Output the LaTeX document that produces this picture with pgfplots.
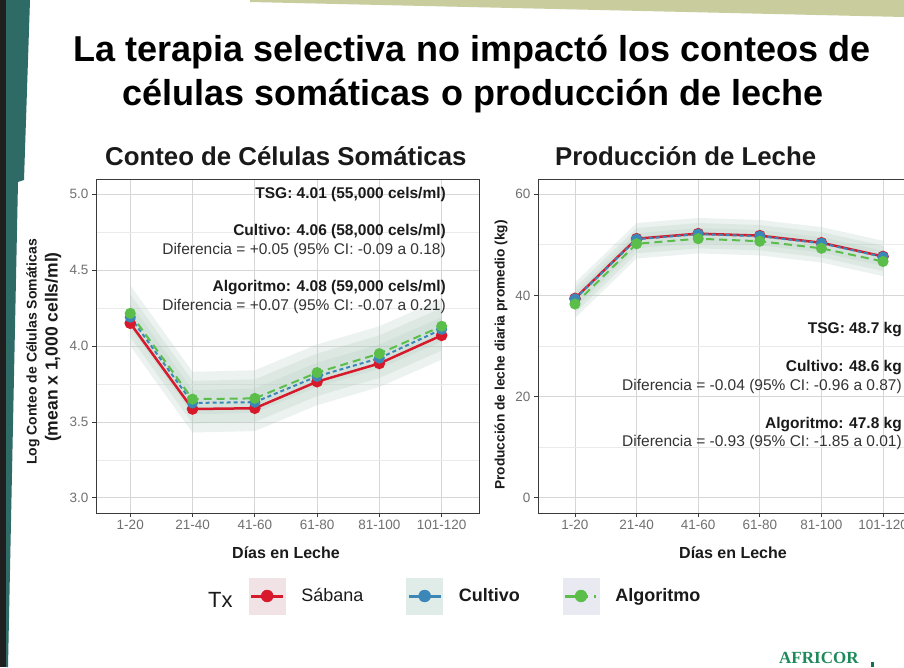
\documentclass[border=0pt]{standalone}
\usepackage{fontspec}
\setmainfont{Liberation Sans}
\newfontfamily\serifb{Liberation Serif}
\usepackage{pgfplots}
\pgfplotsset{compat=1.18}
\definecolor{cR}{HTML}{D7192B}
\definecolor{cB}{HTML}{3A87B8}
\definecolor{cG}{HTML}{5BBE4B}
\definecolor{rib}{HTML}{B0CCBF}
\definecolor{tickg}{HTML}{707070}
\definecolor{gridmaj}{HTML}{D6D6D6}
\definecolor{gridmin}{HTML}{EAEAEA}
\definecolor{framec}{HTML}{3A3A3A}
\definecolor{tealc}{HTML}{2F6B66}
\definecolor{olivec}{HTML}{C9CC9C}
\definecolor{afr}{HTML}{1E8A5C}
\definecolor{keyR}{HTML}{F1E3E5}
\definecolor{keyB}{HTML}{E0ECE7}
\definecolor{keyG}{HTML}{E9EAF1}
\definecolor{txtc}{HTML}{1A1A1A}
\definecolor{diffc}{HTML}{333333}

\pgfplotsset{
  panel/.style={
    scale only axis, anchor=south west,
    height=334pt,
    xtick={0,...,5}, xticklabels={1-20,21-40,41-60,61-80,81-100,101-120},
    tick align=outside, tick pos=left,
    major tick length=4pt, minor tick length=0pt,
    tick style={draw=framec, line width=0.8pt},
    axis line style={framec, line width=0.9pt},
    xmajorgrids, ymajorgrids, yminorgrids, minor y tick num=1,
    major grid style={gridmaj, line width=0.8pt},
    minor grid style={gridmin, line width=0.6pt},
    ticklabel style={font=\fontsize{13.5}{15}\selectfont, text=tickg},
    /pgf/number format/assume math mode=true,
  },
  ribbon/.style={fill=rib, fill opacity=0.24, draw=none, forget plot},
  sR/.style={cR, line width=2.5pt, mark=*, mark size=4.5pt, mark options={solid}, forget plot},
  sB/.style={cB, line width=2pt, dash pattern=on 4pt off 3pt, mark=*, mark size=4.5pt, mark options={solid}, forget plot},
  sG/.style={cG, line width=2pt, dash pattern=on 8pt off 5pt, mark=*, mark size=4.5pt, mark options={solid}, forget plot},
}

\begin{document}
\begin{tikzpicture}
\useasboundingbox (0,0) rectangle (904pt,667pt);
\clip (0,0) rectangle (904pt,667pt);
\fill[white] (0,0) rectangle (904pt,667pt);
% slide decorations
\fill[black!88] (0,0) rectangle (6pt,667pt);
\fill[tealc] (6pt,667pt) -- (30pt,667pt) -- (24pt,487pt) -- (18pt,485pt) -- (8pt,0pt) -- (6pt,0pt) -- cycle;
\fill[olivec] (250pt,667pt) -- (904pt,667pt) -- (904pt,650pt) -- (250pt,665pt) -- cycle;

% main title
\node[anchor=base, font=\fontsize{36}{40}\selectfont\bfseries, text=black] at (472pt,605pt) {La terapia selectiva no impactó los conteos de};
\node[anchor=base, font=\fontsize{36}{40}\selectfont\bfseries, text=black] at (473pt,561pt) {células somáticas o producción de leche};

% panel titles
\node[anchor=base west, font=\fontsize{25.8}{28}\selectfont\bfseries, text=txtc, inner sep=0pt] at (105pt,501pt) {Conteo de Células Somáticas};
\node[anchor=base west, font=\fontsize{25.8}{28}\selectfont\bfseries, text=txtc, inner sep=0pt] at (555pt,501pt) {Producción de Leche};

% ---------- left panel ----------
\begin{axis}[panel, at={(96pt,154pt)}, width=383pt,
  xmin=-0.55, xmax=5.6, ymin=2.9, ymax=5.1,
  ytick={3,3.5,4,4.5,5},
  yticklabel style={/pgf/number format/.cd, fixed, fixed zerofill, precision=1},
  legend columns=3,
  legend style={at={(0.3995,-0.2485)}, anchor=west, draw=none, fill=none,
    inner sep=0pt, outer sep=0pt,
    font=\fontsize{18}{20}\selectfont, text=txtc,
    /tikz/every odd column/.append style={column sep=16pt},
    /tikz/every even column/.append style={column sep=43pt},
    nodes={inner sep=0pt}},
  legend cell align=left,
]
\addplot[ribbon] coordinates {(0,4.40)(1,3.83)(2,3.84)(3,4.01)(4,4.13)(5,4.31)(5,3.91)(4,3.73)(3,3.61)(2,3.44)(1,3.43)(0,4.00)};
\addplot[ribbon] coordinates {(0,4.34)(1,3.77)(2,3.78)(3,3.95)(4,4.07)(5,4.25)(5,3.97)(4,3.79)(3,3.67)(2,3.50)(1,3.49)(0,4.06)};
\addplot[ribbon] coordinates {(0,4.28)(1,3.71)(2,3.72)(3,3.89)(4,4.01)(5,4.19)(5,4.03)(4,3.85)(3,3.73)(2,3.56)(1,3.55)(0,4.12)};

\addplot[sR] coordinates {(0,4.15)(1,3.585)(2,3.59)(3,3.765)(4,3.885)(5,4.07)};
\addplot[sB] coordinates {(0,4.19)(1,3.625)(2,3.63)(3,3.80)(4,3.92)(5,4.11)};
\addplot[sG] coordinates {(0,4.215)(1,3.65)(2,3.655)(3,3.825)(4,3.95)(5,4.13)};

\addlegendimage{legend image code/.code={
  \fill[keyR] (0pt,-18pt) rectangle (36pt,18pt);
  \draw[cR, line width=3pt] (2pt,0pt) -- (34pt,0pt);
  \fill[cR] (18pt,0pt) circle (6pt);}}
\addlegendentry{Sábana}
\addlegendimage{legend image code/.code={
  \fill[keyB] (0pt,-18pt) rectangle (36pt,18pt);
  \draw[cB, line width=3pt] (2pt,0pt) -- (34pt,0pt);
  \fill[cB] (18pt,0pt) circle (6pt);}}
\addlegendentry{\textbf{Cultivo}}
\addlegendimage{legend image code/.code={
  \fill[keyG] (0pt,-18pt) rectangle (36pt,18pt);
  \draw[cG, line width=3pt] (2pt,0pt) -- (25pt,0pt);
  \draw[cG, line width=3pt] (31pt,0pt) -- (33pt,0pt);
  \fill[cG] (18pt,0pt) circle (6pt);}}
\addlegendentry{\textbf{Algoritmo}}
\end{axis}

% ---------- right panel ----------
\begin{axis}[panel, at={(538pt,154pt)}, width=382pt,
  xmin=-0.6, xmax=5.6, ymin=-3, ymax=63,
  ytick={0,20,40,60},
]
\addplot[ribbon] coordinates {(0,42.5)(1,54.3)(2,55.3)(3,54.9)(4,53.5)(5,50.8)(5,43.8)(4,46.5)(3,47.9)(2,48.3)(1,47.3)(0,35.5)};
\addplot[ribbon] coordinates {(0,41.5)(1,53.3)(2,54.3)(3,53.9)(4,52.5)(5,49.8)(5,44.8)(4,47.5)(3,48.9)(2,49.3)(1,48.3)(0,36.5)};
\addplot[ribbon] coordinates {(0,40.5)(1,52.3)(2,53.3)(3,52.9)(4,51.5)(5,48.8)(5,45.8)(4,48.5)(3,49.9)(2,50.3)(1,49.3)(0,37.5)};

\addplot[sR] coordinates {(0,39.4)(1,51.2)(2,52.2)(3,51.8)(4,50.4)(5,47.7)};
\addplot[sB] coordinates {(0,39.3)(1,51.1)(2,52.1)(3,51.7)(4,50.3)(5,47.6)};
\addplot[sG] coordinates {(0,38.3)(1,50.2)(2,51.2)(3,50.7)(4,49.3)(5,46.7)};
\end{axis}

% axis labels
\node[anchor=base, font=\fontsize{16}{18}\selectfont\bfseries, text=txtc] at (286pt,109pt) {Días en Leche};
\node[anchor=base, font=\fontsize{16}{18}\selectfont\bfseries, text=txtc] at (733pt,109pt) {Días en Leche};
\node[rotate=90, font=\fontsize{14}{16}\selectfont\bfseries, text=txtc, inner sep=0pt] at (33pt,315pt) {Log Conteo de Células Somáticas};
\node[rotate=90, font=\fontsize{17.5}{20}\selectfont\bfseries, text=txtc, inner sep=0pt] at (53pt,320pt) {(mean x 1,000 cells/ml)};
\node[rotate=90, font=\fontsize{13.7}{16}\selectfont\bfseries, text=txtc, inner sep=0pt] at (501pt,312pt) {Producción de leche diaria promedio (kg)};

% annotations
\begin{scope}[every node/.style={anchor=base east, inner sep=0pt, font=\fontsize{15.5}{18}\selectfont}]
\node[text=txtc, font=\fontsize{15.5}{18}\selectfont\bfseries] at (446pt,468pt) {TSG: 4.01 (55,000 cels/ml)};
\node[text=txtc, font=\fontsize{15.5}{18}\selectfont\bfseries] at (446pt,431pt) {Cultivo: 4.06 (58,000 cels/ml)};
\node[text=diffc] at (446pt,412pt) {Diferencia = +0.05 (95\% CI: -0.09 a 0.18)};
\node[text=txtc, font=\fontsize{15.5}{18}\selectfont\bfseries] at (446pt,375pt) {Algoritmo: 4.08 (59,000 cels/ml)};
\node[text=diffc] at (446pt,356pt) {Diferencia = +0.07 (95\% CI: -0.07 a 0.21)};
\node[text=txtc, font=\fontsize{15.5}{18}\selectfont\bfseries] at (902pt,333pt) {TSG: 48.7 kg};
\node[text=txtc, font=\fontsize{15.5}{18}\selectfont\bfseries] at (902pt,295pt) {Cultivo: 48.6 kg};
\node[text=diffc] at (902pt,276pt) {Diferencia = -0.04 (95\% CI: -0.96 a 0.87)};
\node[text=txtc, font=\fontsize{15.5}{18}\selectfont\bfseries] at (902pt,239pt) {Algoritmo: 47.8 kg};
\node[text=diffc] at (902pt,221pt) {Diferencia = -0.93 (95\% CI: -1.85 a 0.01)};
\end{scope}

% legend title
\node[anchor=base west, inner sep=0pt, font=\fontsize{22}{26}\selectfont, text=txtc] at (208pt,60pt) {Tx};

% logo
\node[anchor=base west, inner sep=0pt, font=\serifb\fontsize{17}{19}\selectfont\bfseries, text=afr] at (779pt,4pt) {AFRICOR};
\fill[afr!80!black] (871pt,0pt) rectangle (874pt,5pt);
\end{tikzpicture}
\end{document}
